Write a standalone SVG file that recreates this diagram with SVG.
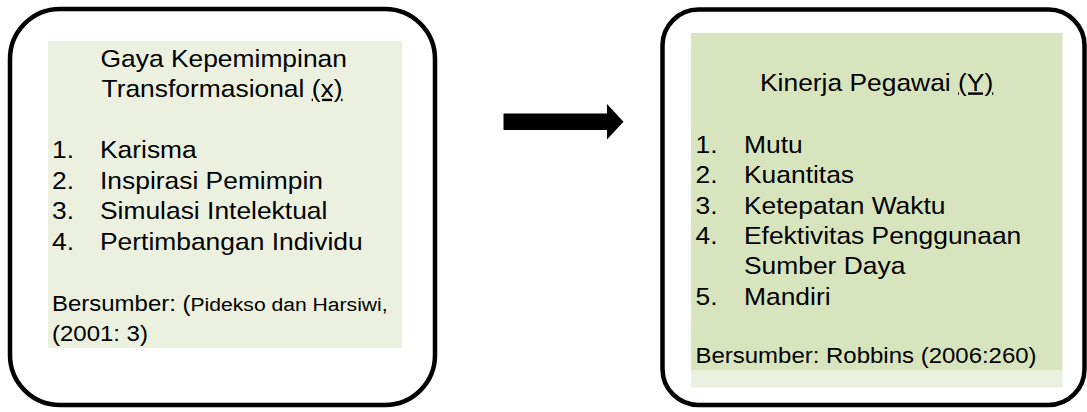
<svg xmlns="http://www.w3.org/2000/svg" width="1087" height="412" viewBox="0 0 1087 412">
<style>
.box{fill:#ffffff;stroke:#000000;stroke-width:4.5}
.t{font-family:"Liberation Sans",Arial,sans-serif;fill:#000000}
.big{font-size:24px}
.src{font-size:21.8px}
.sm{font-size:19.2px}
.u{text-decoration:underline;text-decoration-skip-ink:none}
</style>
<rect x="0" y="0" width="1087" height="412" fill="#ffffff"/>
<g id="node-x">
<rect class="box" x="10" y="9" width="425" height="396" rx="50" ry="50"/>
<rect x="48" y="41" width="354" height="307" fill="#EBF1DE"/>
<text class="t big" transform="translate(100.5,66.5) scale(1.1,1)">Gaya Kepemimpinan</text>
<text class="t big" transform="translate(101.5,96.8) scale(1.1,1)">Transformasional <tspan class="u">(x)</tspan></text>
<text class="t big" transform="translate(52,158.3) scale(1.1,1)">1.</text>
<text class="t big" transform="translate(100,158.3) scale(1.1,1)">Karisma</text>
<text class="t big" transform="translate(52,188.7) scale(1.1,1)">2.</text>
<text class="t big" transform="translate(100,188.7) scale(1.1,1)">Inspirasi Pemimpin</text>
<text class="t big" transform="translate(52,219.1) scale(1.1,1)">3.</text>
<text class="t big" transform="translate(100,219.1) scale(1.1,1)">Simulasi Intelektual</text>
<text class="t big" transform="translate(52,249.5) scale(1.1,1)">4.</text>
<text class="t big" transform="translate(100,249.5) scale(1.1,1)">Pertimbangan Individu</text>
<text class="t src" transform="translate(52,311) scale(1.1,1)">Bersumber: (<tspan class="sm">Pidekso dan Harsiwi,</tspan></text>
<text class="t src" transform="translate(52,340.5) scale(1.1,1)">(2001: 3)</text>
</g>
<g id="node-y">
<rect class="box" x="662.5" y="9.5" width="422" height="395.5" rx="36" ry="36"/>
<rect x="691" y="33" width="371.5" height="337" fill="#D7E4BD"/>
<rect x="691" y="370" width="371.5" height="17.5" fill="#EBF1DE"/>
<text class="t big" transform="translate(760,90.5) scale(1.1,1)">Kinerja Pegawai <tspan class="u">(Y)</tspan></text>
<text class="t big" transform="translate(695.5,152.7) scale(1.1,1)">1.</text>
<text class="t big" transform="translate(744,152.7) scale(1.1,1)">Mutu</text>
<text class="t big" transform="translate(695.5,183.1) scale(1.1,1)">2.</text>
<text class="t big" transform="translate(744,183.1) scale(1.1,1)">Kuantitas</text>
<text class="t big" transform="translate(695.5,213.5) scale(1.1,1)">3.</text>
<text class="t big" transform="translate(744,213.5) scale(1.1,1)">Ketepatan Waktu</text>
<text class="t big" transform="translate(695.5,243.9) scale(1.1,1)">4.</text>
<text class="t big" transform="translate(744,243.9) scale(1.1,1)">Efektivitas Penggunaan</text>
<text class="t big" transform="translate(744,274.3) scale(1.1,1)">Sumber Daya</text>
<text class="t big" transform="translate(695.5,304.7) scale(1.1,1)">5.</text>
<text class="t big" transform="translate(744,304.7) scale(1.1,1)">Mandiri</text>
<text class="t src" transform="translate(695.5,363.3) scale(1.1,1)">Bersumber: Robbins (2006:260)</text>
</g>
<g id="connectors">
<polygon points="503.5,113.5 607,113.5 607,104 623.5,121.7 607,139.5 607,130 503.5,130" fill="#000000"/>
</g>
</svg>
